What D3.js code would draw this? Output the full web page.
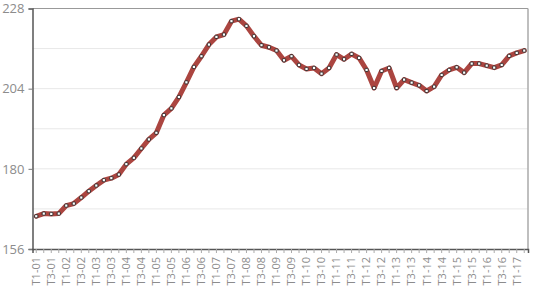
<!DOCTYPE html>
<html><head><meta charset="utf-8">
<script src="https://cdn.jsdelivr.net/npm/d3@7"></script>
<style>body{margin:0;background:#fff}svg{display:block}</style>
</head><body><svg id="c" width="533" height="290"></svg>
<script>
const years = d3.range(1, 18).map(y => String(y).padStart(2, "0"));
const quarters = ["T1","T2","T3","T4"];
const categories = [];
years.forEach(y => quarters.forEach(q => categories.push(q + "-" + y)));
categories.length = 66; // T1-01 .. T2-17
const values = [165.8,166.6,166.5,166.6,169.0,169.6,171.4,173.3,175.0,176.6,177.2,178.3,
181.4,183.3,186.1,188.8,190.8,196.1,198.1,201.5,205.9,210.5,213.7,217.2,219.5,220.2,
224.2,224.8,222.8,219.7,217.0,216.4,215.4,212.5,213.7,211.1,209.9,210.2,208.5,210.2,
214.2,212.8,214.4,213.2,209.6,204.2,209.3,210.2,204.2,206.7,205.8,205.0,203.3,204.6,
208.1,209.6,210.4,208.8,211.5,211.5,210.9,210.3,211.1,213.8,214.7,215.4];
const yTicks = [156,180,204,228];
const yGrid = [168,180,192,204,216];

const svg = d3.select("#c");
const m = {l:32.5, r:5, t:8.5, b:41};
const W = 533, H = 290;
const x = d3.scaleBand().domain(categories).range([m.l, W - m.r]);
const y = d3.scaleLinear().domain([156,228]).range([H - m.b, m.t]);

// grid
svg.append("g").selectAll("line").data(yGrid).join("line")
  .attr("x1", m.l).attr("x2", W - m.r)
  .attr("y1", d => y(d)).attr("y2", d => y(d))
  .attr("stroke", "#e8e8e8").attr("stroke-width", 1);

// frame top/right
svg.append("line").attr("x1", m.l).attr("x2", W - m.r).attr("y1", y(228)).attr("y2", y(228))
  .attr("stroke", "#999").attr("stroke-width", 1);
svg.append("line").attr("x1", W - m.r).attr("x2", W - m.r).attr("y1", y(228)).attr("y2", y(156))
  .attr("stroke", "#aaa").attr("stroke-width", 1.5);

// y axis
const ya = svg.append("g").attr("transform", `translate(${m.l},0)`)
  .call(d3.axisLeft(y).tickValues(yTicks).tickSize(4).tickFormat(d3.format("d")));
ya.select(".domain").attr("stroke", "#555").attr("stroke-width", 1.5);
ya.selectAll(".tick line").attr("stroke", "#777");
ya.selectAll("text").attr("fill", "#8c8c8c").style("font", "13px 'Open Sans', sans-serif").attr("x", -8);

// x axis
const xa = svg.append("g").attr("transform", `translate(0,${H - m.b})`)
  .call(d3.axisBottom(x).tickSize(4)
    .tickFormat((d, i) => i % 2 === 0 ? d : ""));
xa.select(".domain").attr("stroke", "#555").attr("stroke-width", 1.5);
xa.selectAll(".tick line").attr("stroke", "#aaa");
xa.selectAll("text").attr("fill", "#8c8c8c").style("font", "11px 'Open Sans', sans-serif")
  .attr("transform", "rotate(-90)").attr("text-anchor", "end")
  .attr("x", -8).attr("y", 0).attr("dy", "0.35em");

const cx = d => x(d) + x.bandwidth() / 2;
const pts = categories.map((c, i) => [cx(c), y(values[i])]);

svg.append("path").attr("d", d3.line()(pts))
  .attr("fill", "none").attr("stroke", "#ab4540").attr("stroke-width", 5)
  .attr("stroke-linejoin", "round").attr("stroke-linecap", "round");

svg.append("g").selectAll("rect").data(pts).join("rect")
  .attr("x", d => d[0] - 1.6).attr("y", d => d[1] - 1.6)
  .attr("width", 3.2).attr("height", 3.2).attr("rx", 0.8)
  .attr("fill", "#fff").attr("stroke", "#222").attr("stroke-width", 0.9);
</script></body></html>
